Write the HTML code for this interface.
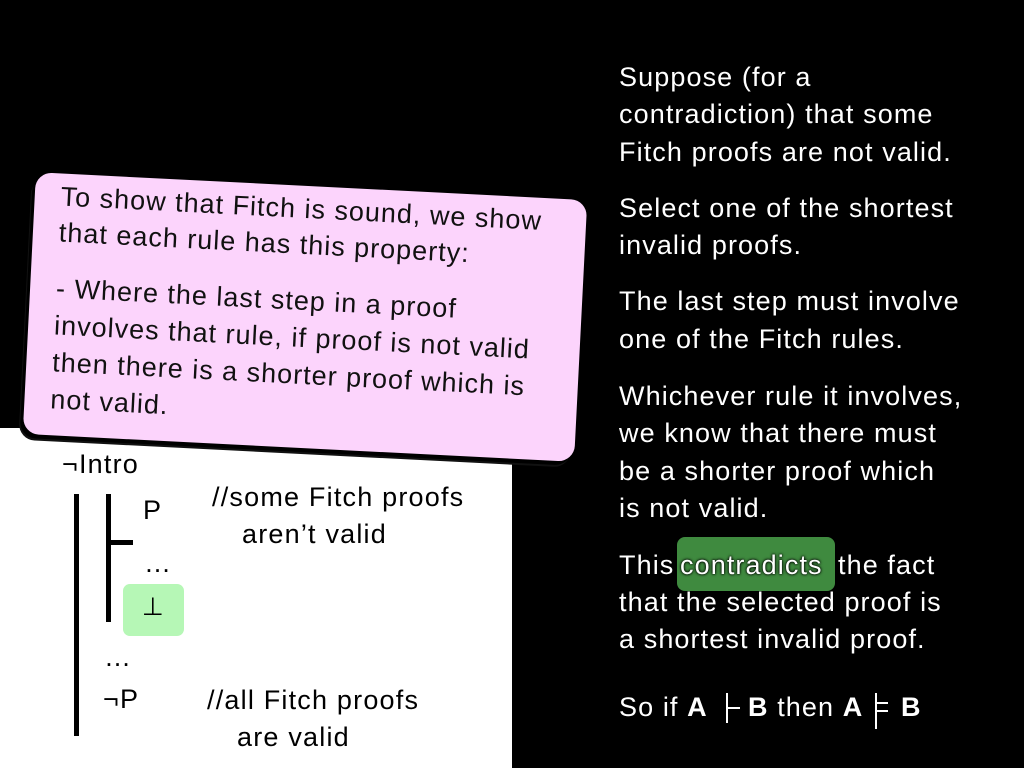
<!DOCTYPE html>
<html><head><meta charset="utf-8"><style>
html,body{margin:0;padding:0}
body{width:1024px;height:768px;background:#000;position:relative;overflow:hidden;font-family:"Liberation Sans","DejaVu Sans",sans-serif}
.t{position:absolute;white-space:nowrap}
.r{color:#fff;font-size:27px;letter-spacing:1.1px;left:619px}
.w{position:absolute;left:0;top:428px;width:512px;height:340px;background:#fff}
.pink{position:absolute;left:29px;top:186px;width:552px;height:262px;background:#fcd4fc;border-radius:16px;transform:rotate(2.9deg);box-shadow:-3px 4px 0 #000, -4px 6px 0 #111}
.pink div{position:absolute;left:26px;font-size:27px;letter-spacing:1px;color:#111;white-space:nowrap}
.b{position:absolute;background:#000}
.k{color:#000;font-size:27px;letter-spacing:1.2px}
</style></head><body>
<div class="w"></div>
<div class="pink">
<div style="top:8px">To show that Fitch is sound, we show</div>
<div style="top:44px">that each rule has this property:</div>
<div style="top:100px">- Where the last step in a proof</div>
<div style="top:137px">involves that rule, if proof is not valid</div>
<div style="top:174px">then there is a shorter proof which is</div>
<div style="top:211px">not valid.</div>
</div>
<div class="t k" style="left:62px;top:449px">¬Intro</div>
<div class="b" style="left:74px;top:494px;width:5px;height:242px"></div>
<div class="b" style="left:106px;top:494px;width:5px;height:128px"></div>
<div class="b" style="left:106px;top:540px;width:27px;height:5px"></div>
<div class="t k" style="left:143px;top:495px">P</div>
<div class="t k" style="left:212px;top:482px">//some Fitch proofs</div>
<div class="t k" style="left:242px;top:519px">aren’t valid</div>
<div class="t k" style="left:144px;top:548px">…</div>
<div style="position:absolute;left:123px;top:584px;width:61px;height:52px;background:#b6f7b6;border-radius:7px"></div>
<div class="t k" style="left:142px;top:592px;font-size:25px">⊥</div>
<div class="t k" style="left:104px;top:642px">…</div>
<div class="t k" style="left:103px;top:684px">¬P</div>
<div class="t k" style="left:207px;top:685px">//all Fitch proofs</div>
<div class="t k" style="left:237px;top:722px">are valid</div>

<div class="t r" style="top:62px">Suppose (for a</div>
<div class="t r" style="top:99px">contradiction) that some</div>
<div class="t r" style="top:137px">Fitch proofs are not valid.</div>
<div class="t r" style="top:193px">Select one of the shortest</div>
<div class="t r" style="top:230px">invalid proofs.</div>
<div class="t r" style="top:286px">The last step must involve</div>
<div class="t r" style="top:324px">one of the Fitch rules.</div>
<div class="t r" style="top:381px">Whichever rule it involves,</div>
<div class="t r" style="top:418px">we know that there must</div>
<div class="t r" style="top:456px">be a shorter proof which</div>
<div class="t r" style="top:493px">is not valid.</div>
<div style="position:absolute;left:677px;top:537px;width:158px;height:54px;background:#3f8a3f;border-radius:8px"></div>
<div class="t r" style="top:550px">This</div>
<div class="t r" style="left:680px;top:550px;letter-spacing:1.1px;text-shadow:0 0 3px #000,0 0 2px #000">contradicts</div>
<div class="t r" style="left:838px;top:550px">the fact</div>
<div class="t r" style="top:587px">that the selected proof is</div>
<div class="t r" style="top:624px">a shortest invalid proof.</div>
<div class="t r" style="top:692px">So if <b>A</b></div>
<div class="b" style="left:726px;top:693px;width:2px;height:30px;background:#fff"></div>
<div class="b" style="left:727px;top:707px;width:13px;height:2px;background:#fff"></div>
<div class="t r" style="left:748px;top:692px"><b>B</b> then <b>A</b></div>
<div class="b" style="left:875px;top:693px;width:2px;height:36px;background:#fff"></div>
<div class="b" style="left:876px;top:702px;width:12px;height:2px;background:#fff"></div>
<div class="b" style="left:876px;top:710px;width:12px;height:2px;background:#fff"></div>
<div class="t r" style="left:901px;top:692px"><b>B</b></div>
</body></html>
